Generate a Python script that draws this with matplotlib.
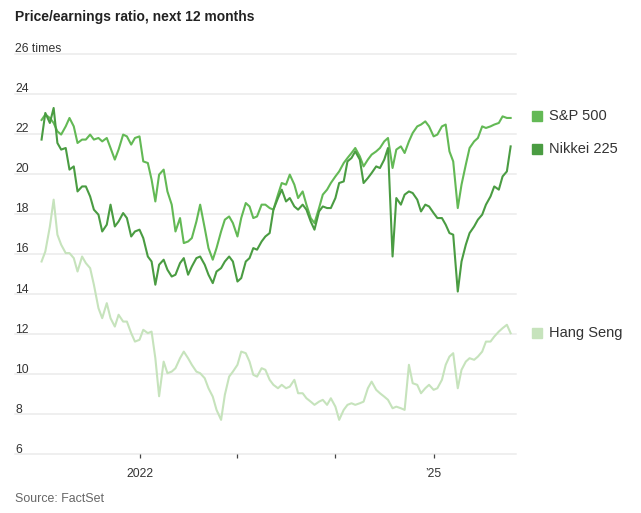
import numpy as np
import pandas as pd
import matplotlib
matplotlib.use("Agg")
import matplotlib.pyplot as plt
import matplotlib.transforms as mtransforms

plt.rcParams['font.family'] = ['Liberation Sans', 'DejaVu Sans']

# semi-monthly readings, Jan 2021 - Oct 2025
dates = pd.date_range('2021-01-01', periods=116, freq='SMS')

sp500 = [
    22.7, 22.97, 22.8, 22.55, 22.13, 21.97, 22.38, 22.8, 22.38, 21.55,
    21.72, 21.72, 21.97, 21.72, 21.8, 21.63, 21.8, 21.3, 20.72, 21.22,
    21.97, 21.88, 21.47, 21.8, 21.88, 20.63, 20.55, 19.72, 18.63, 19.97,
    20.22, 19.13, 18.47, 17.13, 17.8, 16.55, 16.63, 16.8, 17.63, 18.47,
    17.3, 16.3, 15.72, 16.3, 17.13, 17.72, 17.88, 17.55, 16.88, 17.8,
    18.55, 18.38, 17.8, 17.88, 18.47, 18.47, 18.3, 18.22, 18.97, 19.55,
    19.47, 19.97, 19.47, 18.8, 19.13, 18.47, 17.8, 17.55, 18.3, 18.97,
    19.22, 19.55, 19.88, 20.13, 20.55, 20.8, 21.05, 21.3, 20.88, 20.38,
    20.72, 20.97, 21.13, 21.3, 21.63, 21.8, 20.3, 21.22, 21.38, 21.05,
    21.63, 22.05, 22.38, 22.47, 22.63, 22.38, 21.88, 21.97, 22.38, 22.47,
    21.13, 20.63, 18.3, 19.47, 20.47, 21.3, 21.63, 21.8, 22.38, 22.3,
    22.38, 22.47, 22.55, 22.88, 22.8, 22.8,
]

nikkei = [
    21.72, 23.05, 22.55, 23.3, 21.55, 21.22, 21.3, 20.22, 20.38, 19.13,
    19.38, 19.38, 18.88, 18.22, 17.97, 17.13, 17.47, 18.47, 17.38, 17.63,
    18.05, 17.8, 16.88, 17.13, 17.22, 16.8, 15.88, 15.63, 14.47, 15.47,
    15.72, 15.22, 14.88, 14.97, 15.55, 15.8, 14.97, 15.38, 15.8, 15.88,
    15.47, 14.97, 14.55, 15.13, 15.3, 15.63, 15.88, 15.63, 14.63, 14.8,
    15.63, 15.8, 16.3, 16.22, 16.63, 16.88, 17.05, 18.22, 18.8, 19.22,
    18.63, 18.8, 18.38, 18.22, 18.47, 18.22, 17.63, 17.22, 18.13, 18.38,
    18.3, 18.3, 18.8, 19.55, 19.63, 20.63, 20.8, 21.13, 20.72, 19.55,
    19.8, 20.05, 20.38, 20.3, 20.72, 21.3, 15.88, 18.8, 18.47, 18.97,
    19.13, 19.05, 18.72, 18.13, 18.47, 18.38, 18.05, 17.8, 17.8, 17.47,
    17.05, 16.97, 14.13, 15.63, 16.47, 17.05, 17.38, 17.72, 17.97, 18.47,
    18.88, 19.38, 19.22, 19.88, 20.13, 21.38,
]

hang_seng = [
    15.63, 16.13, 17.38, 18.72, 16.97, 16.47, 16.05, 16.05, 15.8, 15.13,
    15.88, 15.55, 15.3, 14.47, 13.3, 12.8, 13.55, 12.8, 12.38, 12.97,
    12.63, 12.63, 12.05, 11.63, 11.72, 12.22, 12.05, 12.13, 10.8, 8.9,
    10.63, 10.05, 10.13, 10.3, 10.8, 11.13, 10.8, 10.47, 10.13, 10.05,
    9.8, 9.3, 8.88, 8.22, 7.72, 8.97, 9.88, 10.13, 10.47, 11.13,
    11.05, 10.63, 9.97, 9.88, 10.3, 10.22, 9.72, 9.47, 9.3, 9.47,
    9.3, 9.38, 9.72, 9.05, 9.05, 8.8, 8.63, 8.47, 8.63, 8.72,
    8.47, 8.8, 8.38, 7.72, 8.22, 8.47, 8.55, 8.47, 8.55, 8.63,
    9.3, 9.63, 9.22, 9.05, 8.88, 8.72, 8.3, 8.38, 8.3, 8.22,
    10.47, 9.55, 9.47, 9.05, 9.3, 9.47, 9.22, 9.3, 9.72, 10.47,
    10.88, 11.05, 9.3, 10.22, 10.63, 10.8, 10.72, 10.88, 11.13, 11.63,
    11.63, 11.88, 12.13, 12.3, 12.47, 12.05,
]

series_names = ['S&P 500', 'Nikkei 225', 'Hang Seng']
series_colors = ['#63b955', '#4a9c42', '#c6e3bc']
y_ticks = [6, 8, 10, 12, 14, 16, 18, 20, 22, 24, 26]
x_ticks = ['2022-01-01', '2023-01-01', '2024-01-01', '2025-01-01']
x_tick_labels = ['2022', '', '', '\u201925']

W, H = 641, 513
fig = plt.figure(figsize=(W / 100, H / 100), dpi=100)
ax = fig.add_axes([15 / W, (H - 454.3) / H, 501 / W, (454.3 - 53.9) / H])

ax.set_ylim(6, 26)
ax.set_xlim(pd.Timestamp('2020-09-24'), pd.Timestamp('2025-11-04'))
for s in ax.spines.values():
    s.set_visible(False)

for v in y_ticks:
    ax.axhline(v, color='#ebebeb', lw=1.1, zorder=0, clip_on=False)

trans = mtransforms.blended_transform_factory(ax.transAxes, ax.transData)
for v in y_ticks:
    lab = f'{v} times' if v == 26 else str(v)
    ax.text(0, v + 0.08, lab, transform=trans, ha='left', va='baseline',
            fontsize=8.8, color='#333333')

ax.set_yticks([])
ax.set_xticks(pd.to_datetime(x_ticks))
ax.set_xticklabels(x_tick_labels)
ax.tick_params(axis='x', length=3, width=0.9, color='#444444', pad=7,
               labelsize=8.8, labelcolor='#333333')

data = {'S&P 500': sp500, 'Nikkei 225': nikkei, 'Hang Seng': hang_seng}
order = ['Hang Seng', 'S&P 500', 'Nikkei 225']
for name in order:
    c = series_colors[series_names.index(name)]
    ax.plot(dates, data[name], color=c, lw=1.5, zorder=3, solid_joinstyle='round')

# labels on the right at the last value, pushed apart if too close
last = [data[n][-1] for n in series_names]
idx = sorted(range(len(last)), key=lambda k: -last[k])
pos = list(last)
min_gap = 1.66
for a, b in zip(idx[:-1], idx[1:]):
    gap = pos[a] - pos[b]
    if gap < min_gap:
        shift = (min_gap - gap) / 2
        pos[a] += shift
        pos[b] -= shift

for name, c, yv in zip(series_names, series_colors, pos):
    ax.plot([1.042], [yv], marker='s', ms=7.3, color=c, transform=trans,
            clip_on=False, linestyle='none')
    ax.text(1.066, yv, name, transform=trans, ha='left', va='center',
            fontsize=10.5, color='#333333')

fig.text(15 / W, 1 - 20.7 / H, 'Price/earnings ratio, next 12 months',
         ha='left', va='baseline', fontsize=10, fontweight='bold', color='#222222')
fig.text(15 / W, 1 - 501.5 / H, 'Source: FactSet', ha='left', va='baseline',
         fontsize=8.9, color='#666666')

fig.savefig('out.png', dpi=100)
